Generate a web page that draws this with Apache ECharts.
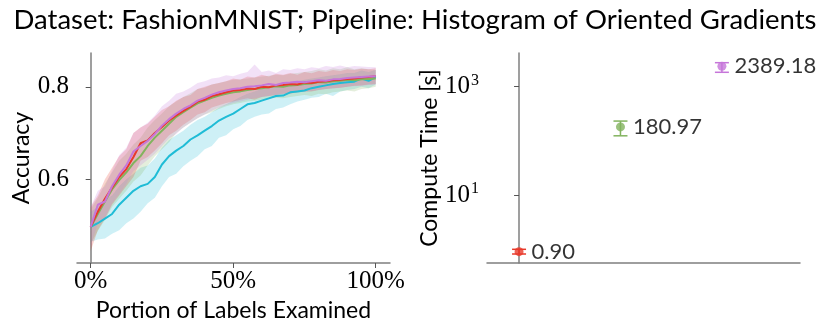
<!DOCTYPE html>
<html>
<head>
<meta charset="utf-8">
<script src="https://cdn.jsdelivr.net/npm/echarts@6/dist/echarts.min.js"></script>
<style>
  html, body { margin: 0; padding: 0; background: #fff; }
  #chart { width: 830px; height: 330px; }
</style>
</head>
<body>
<div id="chart"></div>
<script>
// portion of labels examined
const portion = [0, 0.025, 0.05, 0.075, 0.1, 0.125, 0.15, 0.175, 0.2, 0.225, 0.25, 0.275, 0.3, 0.325, 0.35, 0.375, 0.4, 0.425, 0.45, 0.475, 0.5,
  0.525, 0.55, 0.575, 0.6, 0.625, 0.65, 0.675, 0.7, 0.725, 0.75, 0.775, 0.8, 0.825, 0.85, 0.875, 0.9, 0.925, 0.95, 0.975, 1];

// accuracy curves (mean) and their bands
const cyanAcc = [0.497, 0.505, 0.515, 0.525, 0.545, 0.560, 0.575, 0.585, 0.590, 0.605, 0.632, 0.650, 0.662, 0.672, 0.686, 0.695, 0.705, 0.715, 0.727, 0.735, 0.742,
  0.752, 0.762, 0.765, 0.770, 0.775, 0.780, 0.781, 0.788, 0.790, 0.792, 0.797, 0.800, 0.803, 0.806, 0.808, 0.810, 0.811, 0.818, 0.813, 0.821];
const cyanHi = [0.530, 0.540, 0.555, 0.565, 0.585, 0.600, 0.612, 0.625, 0.630, 0.645, 0.668, 0.685, 0.695, 0.705, 0.718, 0.728, 0.735, 0.745, 0.755, 0.762, 0.770,
  0.778, 0.785, 0.790, 0.795, 0.798, 0.802, 0.805, 0.810, 0.812, 0.815, 0.818, 0.820, 0.823, 0.825, 0.827, 0.830, 0.830, 0.835, 0.832, 0.836];
const cyanLo = [0.465, 0.470, 0.472, 0.482, 0.490, 0.505, 0.515, 0.530, 0.548, 0.560, 0.585, 0.605, 0.612, 0.628, 0.640, 0.650, 0.665, 0.672, 0.690, 0.695, 0.708,
  0.715, 0.728, 0.735, 0.740, 0.742, 0.752, 0.755, 0.762, 0.768, 0.772, 0.776, 0.778, 0.785, 0.780, 0.790, 0.793, 0.795, 0.800, 0.797, 0.805];

const greenAcc = [0.497, 0.525, 0.552, 0.578, 0.598, 0.615, 0.635, 0.650, 0.672, 0.690, 0.705, 0.720, 0.735, 0.745, 0.755, 0.764, 0.770, 0.776, 0.781, 0.785, 0.788,
  0.790, 0.793, 0.795, 0.797, 0.799, 0.801, 0.800, 0.803, 0.804, 0.806, 0.807, 0.810, 0.809, 0.812, 0.813, 0.815, 0.814, 0.816, 0.817, 0.818];
const greenHi = [0.535, 0.560, 0.590, 0.615, 0.640, 0.655, 0.675, 0.690, 0.712, 0.728, 0.742, 0.758, 0.768, 0.778, 0.786, 0.795, 0.798, 0.805, 0.808, 0.812, 0.815,
  0.816, 0.818, 0.820, 0.822, 0.824, 0.826, 0.825, 0.828, 0.830, 0.832, 0.834, 0.838, 0.835, 0.840, 0.838, 0.842, 0.838, 0.840, 0.838, 0.836];
const greenLo = [0.460, 0.488, 0.512, 0.540, 0.558, 0.575, 0.595, 0.608, 0.630, 0.650, 0.665, 0.680, 0.700, 0.712, 0.722, 0.732, 0.740, 0.745, 0.752, 0.758, 0.762,
  0.765, 0.768, 0.770, 0.772, 0.775, 0.776, 0.775, 0.778, 0.780, 0.782, 0.780, 0.785, 0.784, 0.788, 0.790, 0.792, 0.790, 0.795, 0.797, 0.800];

const redAcc = [0.497, 0.530, 0.558, 0.582, 0.605, 0.622, 0.648, 0.678, 0.684, 0.700, 0.713, 0.727, 0.738, 0.748, 0.757, 0.768, 0.772, 0.780, 0.784, 0.788, 0.792,
  0.793, 0.796, 0.795, 0.800, 0.799, 0.803, 0.804, 0.806, 0.805, 0.809, 0.808, 0.811, 0.812, 0.814, 0.815, 0.817, 0.818, 0.820, 0.821, 0.823];
const redHi = [0.540, 0.565, 0.600, 0.625, 0.650, 0.665, 0.700, 0.712, 0.720, 0.735, 0.750, 0.758, 0.770, 0.778, 0.782, 0.795, 0.800, 0.805, 0.808, 0.812, 0.818,
  0.815, 0.822, 0.820, 0.826, 0.822, 0.828, 0.826, 0.830, 0.826, 0.832, 0.829, 0.834, 0.832, 0.836, 0.834, 0.838, 0.836, 0.839, 0.838, 0.840];
const redLo = [0.445, 0.490, 0.515, 0.545, 0.565, 0.585, 0.605, 0.640, 0.648, 0.662, 0.678, 0.695, 0.705, 0.718, 0.728, 0.740, 0.745, 0.755, 0.760, 0.765, 0.768,
  0.772, 0.775, 0.772, 0.778, 0.780, 0.782, 0.785, 0.785, 0.788, 0.790, 0.790, 0.793, 0.795, 0.797, 0.798, 0.800, 0.802, 0.803, 0.805, 0.806];

const purpleAcc = [0.497, 0.545, 0.552, 0.585, 0.610, 0.630, 0.660, 0.672, 0.683, 0.698, 0.716, 0.730, 0.742, 0.752, 0.760, 0.770, 0.776, 0.783, 0.788, 0.792, 0.795,
  0.797, 0.800, 0.801, 0.803, 0.806, 0.804, 0.808, 0.809, 0.811, 0.810, 0.812, 0.814, 0.813, 0.816, 0.817, 0.819, 0.820, 0.821, 0.822, 0.823];
const purpleHi = [0.540, 0.575, 0.585, 0.620, 0.652, 0.668, 0.700, 0.712, 0.722, 0.738, 0.758, 0.770, 0.785, 0.790, 0.798, 0.808, 0.812, 0.818, 0.820, 0.825, 0.823,
  0.828, 0.832, 0.848, 0.832, 0.835, 0.830, 0.838, 0.836, 0.840, 0.838, 0.842, 0.840, 0.845, 0.843, 0.846, 0.842, 0.845, 0.844, 0.843, 0.842];
const purpleLo = [0.455, 0.505, 0.515, 0.548, 0.568, 0.590, 0.618, 0.630, 0.642, 0.655, 0.672, 0.688, 0.698, 0.712, 0.722, 0.732, 0.740, 0.748, 0.755, 0.760, 0.765,
  0.768, 0.772, 0.775, 0.778, 0.780, 0.782, 0.784, 0.786, 0.788, 0.789, 0.791, 0.793, 0.795, 0.796, 0.798, 0.800, 0.801, 0.802, 0.804, 0.805];

// compute time (right panel)
const timePos = [0, 1, 2];
const timeMean = [0.90, 180.97, 2389.18];
const timeLo = [0.815, 124, 1845];
const timeHi = [0.995, 232, 2775];

const CYAN = '#1fbcd6', GREEN = '#82b35e', RED = '#e8392b', PURPLE = '#c676d9';
const timeColors = [RED, GREEN, PURPLE];

const SANS = 'Lato';
const SERIF = 'Liberation Serif';

function band(lo, hi, color) {
  return {
    type: 'custom',
    xAxisIndex: 0, yAxisIndex: 0,
    silent: true,
    data: [[portion[0], lo[0], hi[0]]],
    renderItem: function (params, api) {
      let pts = [];
      for (let i = 0; i < portion.length; i++) pts.push(api.coord([portion[i], hi[i]]));
      for (let i = portion.length - 1; i >= 0; i--) pts.push(api.coord([portion[i], lo[i]]));
      return {
        type: 'polygon',
        shape: { points: pts },
        style: { fill: color, opacity: 0.22 }
      };
    },
    z: 1
  };
}

function line(vals, color) {
  return {
    type: 'line',
    xAxisIndex: 0, yAxisIndex: 0,
    data: portion.map((p, i) => [p, vals[i]]),
    symbol: 'none',
    lineStyle: { color: color, width: 2 },
    itemStyle: { color: color },
    z: 3
  };
}

let myChart = echarts.init(document.getElementById('chart'));

myChart.setOption({
  animation: false,
  title: {
    text: 'Dataset: FashionMNIST; Pipeline: Histogram of Oriented Gradients',
    left: 'center', top: 1,
    textStyle: { fontFamily: SANS, fontSize: 27.5, fontWeight: 'normal', color: '#000' }
  },
  grid: [
    { left: 77, top: 53, width: 313, height: 210 },
    { left: 487, top: 53, width: 313, height: 210 }
  ],
  xAxis: [
    {
      gridIndex: 0, type: 'value', min: -0.048, max: 1.05,
      axisLine: { lineStyle: { color: '#7f7f7f', width: 1.5 } },
      axisTick: { customValues: [0, 0.5, 1], length: 5, lineStyle: { color: '#555' } },
      axisLabel: {
        customValues: [0, 0.5, 1], formatter: v => Math.round(v * 100) + '%',
        fontFamily: SERIF, fontSize: 25, color: '#000', margin: 6
      },
      splitLine: { show: false },
      name: 'Portion of Labels Examined', nameLocation: 'middle', nameGap: 34,
      nameTextStyle: { fontFamily: SANS, fontSize: 23, color: '#000' }
    },
    {
      gridIndex: 1, type: 'value', min: -0.316, max: 2.77,
      axisLine: { lineStyle: { color: '#7f7f7f', width: 1.5 } },
      axisTick: { show: false }, axisLabel: { show: false },
      splitLine: { show: false }
    }
  ],
  yAxis: [
    {
      gridIndex: 0, type: 'value', min: 0.419, max: 0.873,
      axisLine: { show: true, lineStyle: { color: '#7f7f7f', width: 1.5 } },
      axisTick: { show: true, customValues: [0.6, 0.8], length: 5, lineStyle: { color: '#555' } },
      axisLabel: {
        customValues: [0.6, 0.8], formatter: v => v.toFixed(1),
        fontFamily: SERIF, fontSize: 25, color: '#000', margin: 8
      },
      splitLine: { show: false },
      name: 'Accuracy', nameLocation: 'middle', nameRotate: 90, nameGap: 44,
      nameTextStyle: { fontFamily: SANS, fontSize: 23, color: '#000' }
    },
    {
      gridIndex: 1, type: 'log', logBase: 10, min: 0.556, max: 4190,
      axisLine: { show: true, lineStyle: { color: '#7f7f7f', width: 1.5 } },
      axisTick: { show: true, customValues: [10, 1000], length: 5, lineStyle: { color: '#555' } },
      axisLabel: {
        customValues: [10, 1000],
        formatter: v => '{b|10}{s|' + Math.round(Math.log10(v)) + '}',
        color: '#000', margin: 8,
        rich: {
          b: { fontFamily: SERIF, fontSize: 25, color: '#000', lineHeight: 28 },
          s: { fontFamily: SERIF, fontSize: 16, color: '#000', verticalAlign: 'top', lineHeight: 28, padding: [0, 0, 0, 1] }
        }
      },
      splitLine: { show: false },
      name: 'Compute Time [s]', nameLocation: 'middle', nameRotate: 90, nameGap: 46,
      nameTextStyle: { fontFamily: SANS, fontSize: 23, color: '#000' }
    }
  ],
  series: [
    band(cyanLo, cyanHi, CYAN),
    band(greenLo, greenHi, GREEN),
    band(redLo, redHi, RED),
    band(purpleLo, purpleHi, PURPLE),
    line(cyanAcc, CYAN),
    line(greenAcc, GREEN),
    line(redAcc, RED),
    line(purpleAcc, PURPLE),
    {
      type: 'custom',
      xAxisIndex: 1, yAxisIndex: 1,
      data: timePos.map((x, i) => [x, timeLo[i], timeHi[i]]),
      renderItem: function (params, api) {
        const top = api.coord([api.value(0), api.value(2)]);
        const bot = api.coord([api.value(0), api.value(1)]);
        const c = timeColors[params.dataIndex];
        const w = 7;
        const st = { stroke: c, lineWidth: 1.5 };
        return {
          type: 'group',
          children: [
            { type: 'line', shape: { x1: top[0], y1: top[1], x2: bot[0], y2: bot[1] }, style: st },
            { type: 'line', shape: { x1: top[0] - w, y1: top[1], x2: top[0] + w, y2: top[1] }, style: st },
            { type: 'line', shape: { x1: bot[0] - w, y1: bot[1], x2: bot[0] + w, y2: bot[1] }, style: st }
          ]
        };
      },
      z: 2
    },
    {
      type: 'scatter',
      xAxisIndex: 1, yAxisIndex: 1,
      data: timePos.map((x, i) => ({ value: [x, timeMean[i]], itemStyle: { color: timeColors[i] } })),
      symbol: 'circle', symbolSize: 9,
      label: {
        show: true, position: 'right', distance: 8,
        formatter: p => p.value[1].toFixed(2),
        fontFamily: SANS, fontSize: 22, color: '#000'
      },
      z: 3
    }
  ]
});
</script>
</body>
</html>
